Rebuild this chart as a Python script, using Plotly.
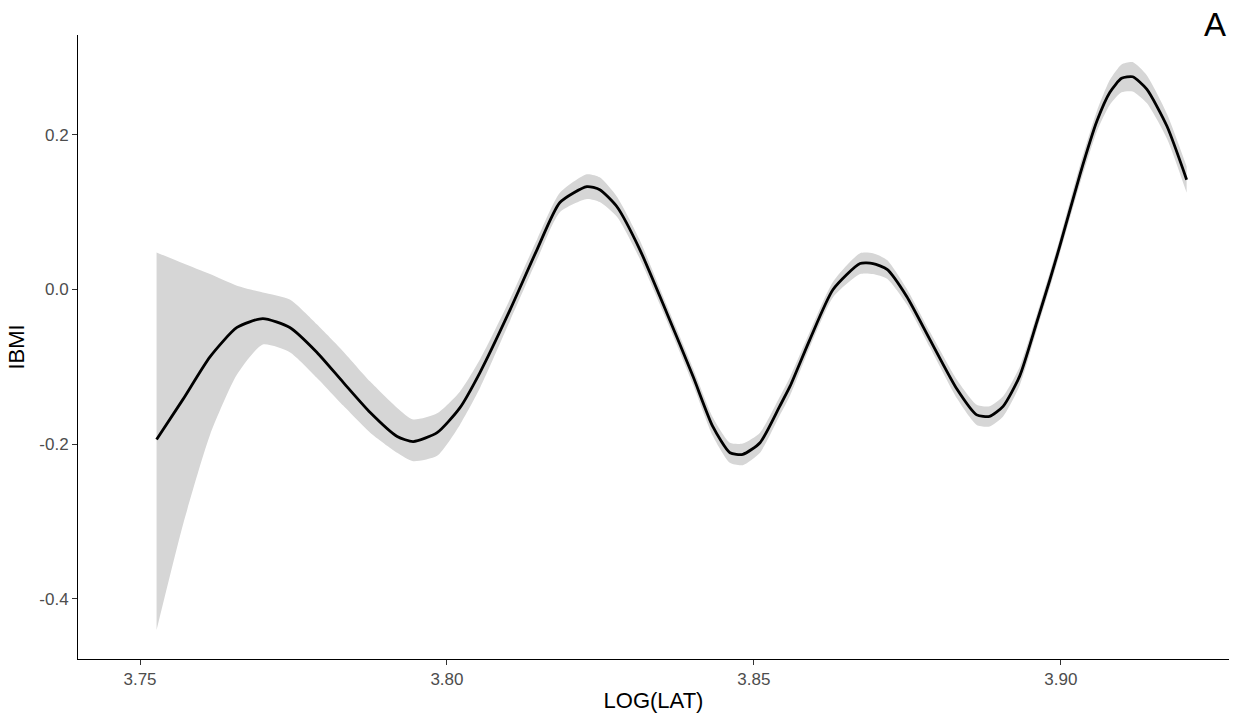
import plotly.graph_objects as go

# Smoothed fit (x = LOG(LAT), y = IBMI)
log_lat = [3.7527, 3.7570, 3.7614, 3.7658, 3.7700, 3.7744, 3.7788, 3.7831, 3.7875, 3.7919,
           3.7945, 3.7984, 3.8021, 3.8054, 3.8103, 3.8147, 3.8184, 3.8228, 3.8249, 3.8277,
           3.8314, 3.8358, 3.8401, 3.8433, 3.8461, 3.8482, 3.8510, 3.8542, 3.8559, 3.8591,
           3.8629, 3.8673, 3.8694, 3.8717, 3.8749, 3.8787, 3.8831, 3.8863, 3.8884, 3.8906,
           3.8933, 3.8961, 3.8982, 3.8998, 3.9031, 3.9059, 3.9080, 3.9099, 3.9117, 3.9140,
           3.9173, 3.9205]
ibmi_fit = [-0.194, -0.142, -0.087, -0.049, -0.0375, -0.049, -0.081, -0.120, -0.159, -0.190,
            -0.1965, -0.185, -0.153, -0.107, -0.026, 0.052, 0.1125, 0.133, 0.129, 0.107,
            0.052, -0.030, -0.1125, -0.177, -0.211, -0.213, -0.198, -0.151, -0.125, -0.065,
            0.000, 0.0336, 0.0336, 0.026, -0.009, -0.065, -0.129, -0.162, -0.164, -0.151,
            -0.112, -0.042, 0.012, 0.055, 0.148, 0.218, 0.255, 0.273, 0.275, 0.259,
            0.211, 0.142]
ibmi_upper = [0.048, 0.034, 0.020, 0.005, -0.004, -0.013, -0.045, -0.080, -0.119, -0.153,
              -0.168, -0.160, -0.132, -0.090, -0.012, 0.065, 0.125, 0.149, 0.145, 0.120,
              0.064, -0.020, -0.102, -0.165, -0.198, -0.199, -0.185, -0.139, -0.113, -0.055,
              0.010, 0.047, 0.047, 0.038, 0.001, -0.055, -0.117, -0.149, -0.151, -0.138,
              -0.100, -0.032, 0.022, 0.065, 0.160, 0.231, 0.271, 0.291, 0.294, 0.277,
              0.227, 0.159]
ibmi_lower = [-0.440, -0.304, -0.188, -0.110, -0.071, -0.081, -0.114, -0.150, -0.185, -0.211,
              -0.222, -0.215, -0.175, -0.127, -0.040, 0.039, 0.100, 0.117, 0.113, 0.094,
              0.040, -0.040, -0.123, -0.189, -0.224, -0.227, -0.211, -0.163, -0.137, -0.075,
              -0.010, 0.020, 0.020, 0.014, -0.019, -0.075, -0.141, -0.175, -0.177, -0.164,
              -0.124, -0.052, 0.002, 0.045, 0.136, 0.205, 0.239, 0.255, 0.256, 0.241,
              0.195, 0.125]

x_tick_vals = [3.75, 3.80, 3.85, 3.90]
x_tick_text = ["3.75", "3.80", "3.85", "3.90"]
y_tick_vals = [0.2, 0.0, -0.2, -0.4]
y_tick_text = ["0.2", "0.0", "-0.2", "-0.4"]

FONT = "Liberation Sans, Arial, sans-serif"

fig = go.Figure()
fig.add_trace(go.Scatter(x=log_lat, y=ibmi_upper, mode="lines",
                         line=dict(width=0, shape="spline", smoothing=0.6),
                         hoverinfo="skip", showlegend=False))
fig.add_trace(go.Scatter(x=log_lat, y=ibmi_lower, mode="lines",
                         line=dict(width=0, shape="spline", smoothing=0.6),
                         fill="tonexty", fillcolor="rgb(214,214,214)",
                         hoverinfo="skip", showlegend=False))
fig.add_trace(go.Scatter(x=log_lat, y=ibmi_fit, mode="lines",
                         line=dict(color="black", width=2.8, shape="spline", smoothing=0.6),
                         showlegend=False))

axis_common = dict(showgrid=False, zeroline=False, showline=True, linecolor="black",
                   linewidth=1, ticks="outside", ticklen=5, tickcolor="#333333",
                   tickfont=dict(family=FONT, size=17, color="#4D4D4D"))

fig.update_layout(
    width=1240, height=721,
    margin=dict(l=78, r=11, t=35, b=62),
    paper_bgcolor="white", plot_bgcolor="white",
    font=dict(family=FONT),
    xaxis=dict(range=[3.7399, 3.9274], tickvals=x_tick_vals, ticktext=x_tick_text,
               title=dict(text="LOG(LAT)", font=dict(family=FONT, size=22, color="black"),
                          standoff=4),
               **axis_common),
    yaxis=dict(range=[-0.4776, 0.329], tickvals=y_tick_vals, ticktext=y_tick_text,
               title=dict(text="IBMI", font=dict(family=FONT, size=22, color="black"),
                          standoff=8),
               **axis_common),
    annotations=[dict(text="A", xref="paper", yref="paper", x=1.0, y=1.0,
                      xanchor="right", yanchor="bottom", xshift=-1, yshift=-10,
                      showarrow=False, font=dict(family=FONT, size=33, color="black"))],
)

fig.write_html("out.html")
